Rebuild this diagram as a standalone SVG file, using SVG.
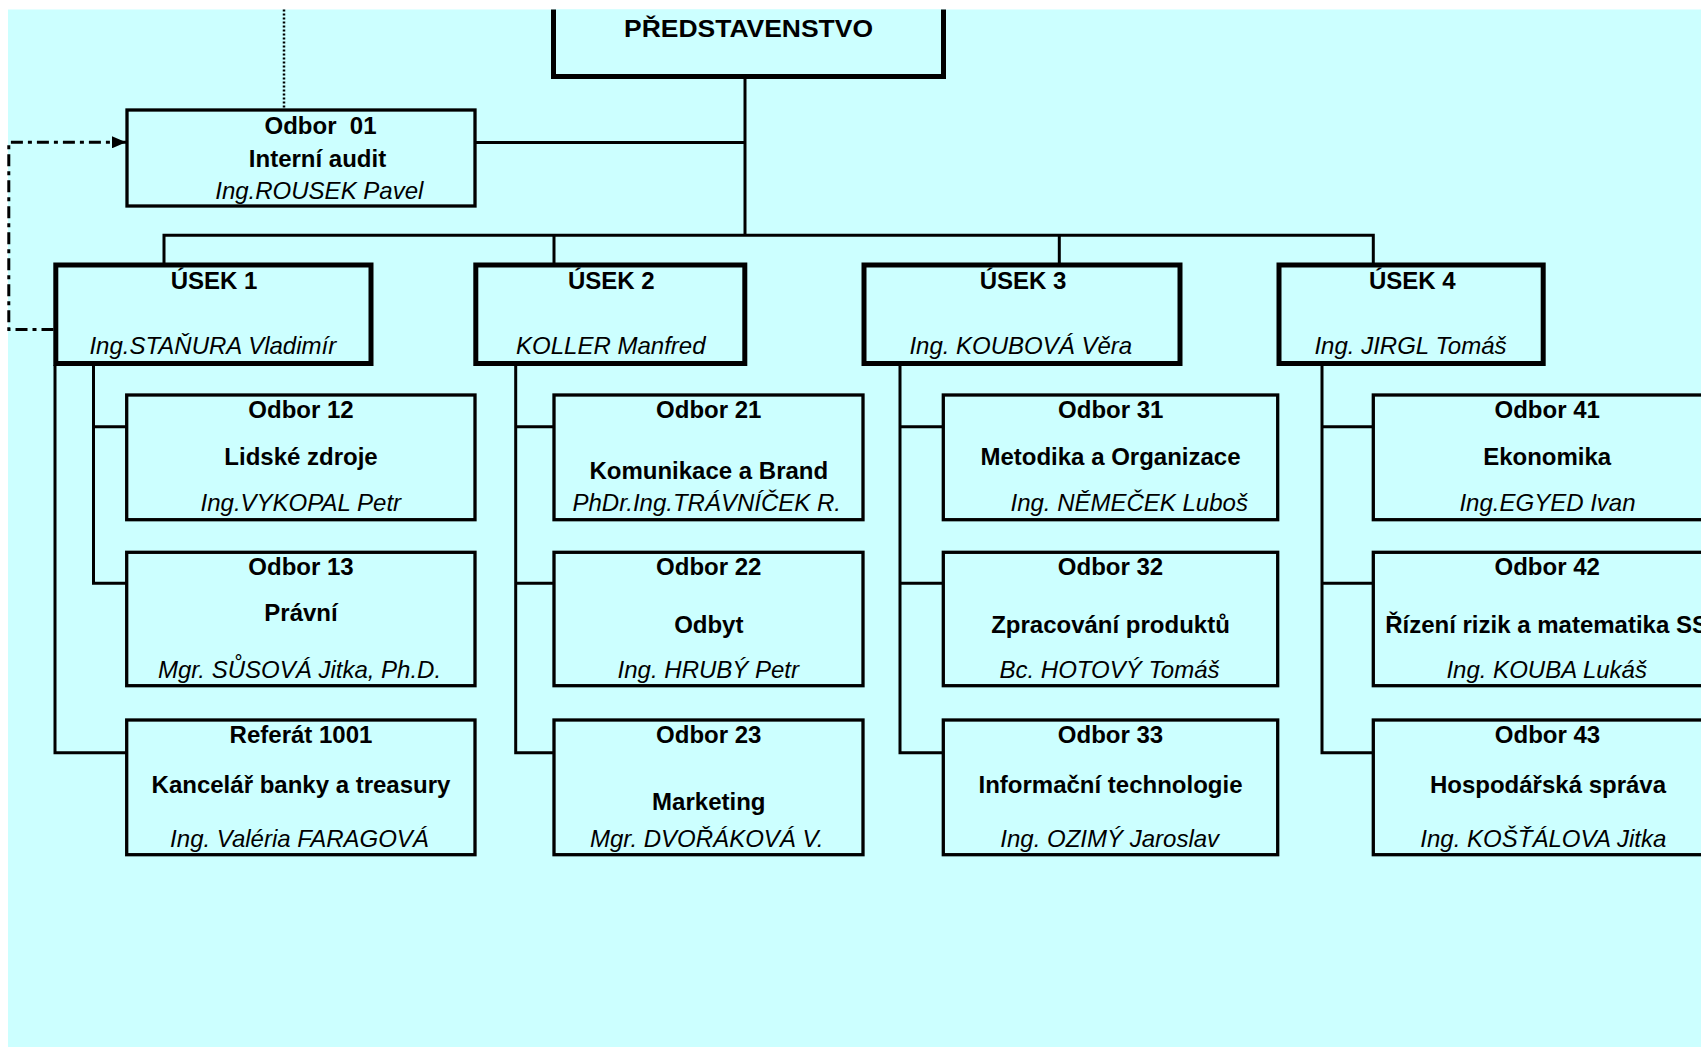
<svg xmlns="http://www.w3.org/2000/svg" width="1701" height="1047" viewBox="0 0 1701 1047">
<defs>
<style>
.bg{fill:#CCFFFF}
.box{fill:#CCFFFF;stroke:#000;stroke-width:3.3}
.thick{stroke-width:5}
.conn{fill:none;stroke:#000;stroke-width:3}
.dashdot{fill:none;stroke:#000;stroke-width:3;stroke-dasharray:12 5 4 5}
.dotted{fill:none;stroke:#000;stroke-width:2.5;stroke-dasharray:2 2}
text{font-family:"Liberation Sans",Arial,Helvetica,sans-serif;font-size:24px;fill:#000;text-anchor:middle;white-space:pre}
.b{font-weight:bold}
.i{font-style:italic}
</style>
<marker id="arrow" viewBox="0 0 14 12" refX="14" refY="6" markerWidth="14" markerHeight="12" markerUnits="userSpaceOnUse" orient="auto">
<path d="M0 0 L14 6 L0 12 Z" fill="#000"/>
</marker>
</defs>
<rect class="bg" x="8" y="9.5" width="1693" height="1037.5"/>
<g id="connectors">
<path class="dotted" d="M284 9.5 V108.5"/>
<path class="dashdot" d="M53.5 329.5 H8.8 V142.3 H126" marker-end="url(#arrow)"/>
<path class="conn" d="M745 78 V235.3"/>
<path class="conn" d="M475 142.5 H745"/>
<path class="conn" d="M164 263 V235.3 H1373.3 V263"/>
<path class="conn" d="M554 235.3 V263"/>
<path class="conn" d="M1059.3 235.3 V263"/>
<path class="conn" d="M93.5 365 V583.3 H126.7 M93.5 426.7 H126.7"/>
<path class="conn" d="M55 365 V752.7 H126.7"/>
<path class="conn" d="M515.7 365 V752.7 H554 M515.7 426.7 H554 M515.7 583.3 H554"/>
<path class="conn" d="M900 365 V752.7 H943.3 M900 426.7 H943.3 M900 583.3 H943.3"/>
<path class="conn" d="M1322 365 V752.7 H1373.3 M1322 426.7 H1373.3 M1322 583.3 H1373.3"/>
</g>
<g id="predstavenstvo">
<path class="box thick" d="M553.5 9.5 V76.5 H943.5 V9.5"/>
<text class="b" x="748.5" y="36.5" textLength="249" lengthAdjust="spacingAndGlyphs">PŘEDSTAVENSTVO</text>
</g>
<g id="odbor01">
<rect class="box" x="127" y="110" width="348" height="96"/>
<text class="b" x="320.5" y="134">Odbor  01</text>
<text class="b" x="317.5" y="166.7">Interní audit</text>
<text class="i" x="319.3" y="199.3">Ing.ROUSEK Pavel</text>
</g>
<g id="usek1">
<rect class="box thick" x="55.8" y="265" width="315.2" height="98.5"/>
<text class="b" x="214" y="289.3">ÚSEK 1</text>
<text class="i" x="212.8" y="353.5">Ing.STAŇURA Vladimír</text>
</g>
<g id="usek2">
<rect class="box thick" x="475.8" y="265" width="269" height="98.5"/>
<text class="b" x="611.3" y="289.3">ÚSEK 2</text>
<text class="i" x="610.8" y="353.5">KOLLER Manfred</text>
</g>
<g id="usek3">
<rect class="box thick" x="864" y="265" width="316" height="98.5"/>
<text class="b" x="1023" y="289.3">ÚSEK 3</text>
<text class="i" x="1020.8" y="353.5">Ing. KOUBOVÁ Věra</text>
</g>
<g id="usek4">
<rect class="box thick" x="1279" y="265" width="264.2" height="98.5"/>
<text class="b" x="1412.3" y="289.3">ÚSEK 4</text>
<text class="i" x="1410.5" y="353.5">Ing. JIRGL Tomáš</text>
</g>
<g id="odbor12">
<rect class="box" x="126.7" y="395" width="348.3" height="124.7"/>
<text class="b" x="301" y="418.3">Odbor 12</text>
<text class="b" x="301" y="464.5">Lidské zdroje</text>
<text class="i" x="300.8" y="511">Ing.VYKOPAL Petr</text>
</g>
<g id="odbor13">
<rect class="box" x="126.7" y="552.3" width="348.3" height="133.4"/>
<text class="b" x="301" y="575">Odbor 13</text>
<text class="b" x="301" y="620.7">Právní</text>
<text class="i" x="299.5" y="678.3">Mgr. SŮSOVÁ Jitka, Ph.D.</text>
</g>
<g id="referat1001">
<rect class="box" x="126.7" y="720" width="348.3" height="134.7"/>
<text class="b" x="301" y="743.3">Referát 1001</text>
<text class="b" x="301" y="792.7">Kancelář banky a treasury</text>
<text class="i" x="299.5" y="846.7">Ing. Valéria FARAGOVÁ</text>
</g>
<g id="odbor21">
<rect class="box" x="554" y="395" width="309" height="124.7"/>
<text class="b" x="708.8" y="418.3">Odbor 21</text>
<text class="b" x="708.8" y="479">Komunikace a Brand</text>
<text class="i" x="706.7" y="511">PhDr.Ing.TRÁVNÍČEK R.</text>
</g>
<g id="odbor22">
<rect class="box" x="554" y="552.3" width="309" height="133.4"/>
<text class="b" x="708.8" y="575">Odbor 22</text>
<text class="b" x="708.8" y="632.7">Odbyt</text>
<text class="i" x="708.3" y="678.3">Ing. HRUBÝ Petr</text>
</g>
<g id="odbor23">
<rect class="box" x="554" y="720" width="309" height="134.7"/>
<text class="b" x="708.8" y="743.3">Odbor 23</text>
<text class="b" x="708.8" y="810">Marketing</text>
<text class="i" x="706.7" y="846.7">Mgr. DVOŘÁKOVÁ V.</text>
</g>
<g id="odbor31">
<rect class="box" x="943.3" y="395" width="334.4" height="124.7"/>
<text class="b" x="1110.8" y="418.3">Odbor 31</text>
<text class="b" x="1110.5" y="465">Metodika a Organizace</text>
<text class="i" x="1129.2" y="511">Ing. NĚMEČEK Luboš</text>
</g>
<g id="odbor32">
<rect class="box" x="943.3" y="552.3" width="334.4" height="133.4"/>
<text class="b" x="1110.5" y="575">Odbor 32</text>
<text class="b" x="1110.5" y="632.7">Zpracování produktů</text>
<text class="i" x="1109.5" y="678.3">Bc. HOTOVÝ Tomáš</text>
</g>
<g id="odbor33">
<rect class="box" x="943.3" y="720" width="334.4" height="134.7"/>
<text class="b" x="1110.5" y="743.3">Odbor 33</text>
<text class="b" x="1110.5" y="792.7">Informační technologie</text>
<text class="i" x="1109.7" y="846.7">Ing. OZIMÝ Jaroslav</text>
</g>
<g id="odbor41">
<rect class="box" x="1373.3" y="395" width="347.7" height="124.7"/>
<text class="b" x="1547.2" y="418.3">Odbor 41</text>
<text class="b" x="1547.2" y="465">Ekonomika</text>
<text class="i" x="1547.5" y="511">Ing.EGYED Ivan</text>
</g>
<g id="odbor42">
<rect class="box" x="1373.3" y="552.3" width="347.7" height="133.4"/>
<text class="b" x="1547.2" y="575">Odbor 42</text>
<text class="b" x="1546.6" y="632.7">Řízení rizik a matematika SS</text>
<text class="i" x="1546.7" y="678.3">Ing. KOUBA Lukáš</text>
</g>
<g id="odbor43">
<rect class="box" x="1373.3" y="720" width="347.7" height="134.7"/>
<text class="b" x="1547.5" y="743.3">Odbor 43</text>
<text class="b" x="1548" y="792.7">Hospodářská správa</text>
<text class="i" x="1543.3" y="846.7">Ing. KOŠŤÁLOVA Jitka</text>
</g>
</svg>
